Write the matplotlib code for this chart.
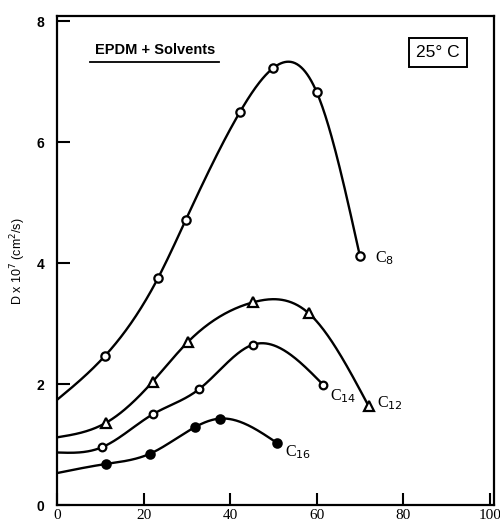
"""EPDM + solvents: diffusion coefficient vs. concentration, 25 C."""

import numpy as np
import matplotlib

matplotlib.use("Agg")
import matplotlib.pyplot as plt

# ---- data ----------------------------------------------------------------
# curve start at x=0 (no marker) is kept separately from the measured points
c8_x = [11.0, 23.4, 29.8, 42.3, 49.9, 60.0, 70.0]
c8_y = [2.46, 3.76, 4.72, 6.50, 7.22, 6.83, 4.12]
c8_start = 1.74

c12_x = [11.3, 22.1, 30.3, 45.2, 58.2, 72.0]
c12_y = [1.36, 2.04, 2.70, 3.35, 3.17, 1.64]
c12_start = 1.12

c14_x = [10.5, 22.1, 32.9, 45.2, 61.5]
c14_y = [0.96, 1.50, 1.92, 2.65, 1.99]
c14_start = 0.87

c16_x = [11.3, 21.5, 31.9, 37.6, 50.8]
c16_y = [0.68, 0.85, 1.29, 1.43, 1.03]
c16_start = 0.53

labels = ["C$_8$", "C$_{12}$", "C$_{14}$", "C$_{16}$"]


def natural_spline(xs, ys, n=300):
    """Natural cubic spline through the points, evaluated on a fine grid."""
    x = np.asarray(xs, float)
    y = np.asarray(ys, float)
    k = len(x)
    h = np.diff(x)
    A = np.zeros((k, k))
    b = np.zeros(k)
    A[0, 0] = A[-1, -1] = 1.0
    for i in range(1, k - 1):
        A[i, i - 1] = h[i - 1]
        A[i, i] = 2 * (h[i - 1] + h[i])
        A[i, i + 1] = h[i]
        b[i] = 6 * ((y[i + 1] - y[i]) / h[i] - (y[i] - y[i - 1]) / h[i - 1])
    m = np.linalg.solve(A, b)
    gx = np.linspace(x[0], x[-1], n)
    j = np.clip(np.searchsorted(x, gx) - 1, 0, k - 2)
    t0 = x[j + 1] - gx
    t1 = gx - x[j]
    hj = h[j]
    gy = (m[j] * t0 ** 3 / (6 * hj) + m[j + 1] * t1 ** 3 / (6 * hj)
          + (y[j] / hj - m[j] * hj / 6) * t0
          + (y[j + 1] / hj - m[j + 1] * hj / 6) * t1)
    return gx, gy


fig = plt.figure(figsize=(5.0, 5.24), dpi=100)
ax = fig.add_axes([0.114, 0.036, 0.874, 0.933])

series = [
    (c8_x, c8_y, c8_start, dict(marker="o", mfc="white", mec="black", ms=6)),
    (c12_x, c12_y, c12_start, dict(marker="^", mfc="white", mec="black", ms=7)),
    (c14_x, c14_y, c14_start, dict(marker="o", mfc="white", mec="black", ms=5.5)),
    (c16_x, c16_y, c16_start, dict(marker="o", mfc="black", mec="black", ms=6)),
]

for xs, ys, start, style in series:
    cx, cy = natural_spline([0.0] + xs, [start] + ys)
    ax.plot(cx, cy, color="black", lw=1.7, solid_capstyle="round")
    ax.plot(xs, ys, ls="none", mew=1.6, **style)

# curve labels
serif = "Liberation Serif"
ax.text(73.6, 4.08, labels[0], fontsize=11.5, family=serif, va="center")
ax.text(74.0, 1.68, labels[1], fontsize=11.5, family=serif, va="center")
ax.text(63.0, 1.80, labels[2], fontsize=11.5, family=serif, va="center")
ax.text(52.6, 0.88, labels[3], fontsize=11.5, family=serif, va="center")

# title-like annotation, underlined
ax.text(22.6, 7.52, "EPDM + Solvents", fontsize=10.5, fontweight="bold",
        ha="center", va="center", family="Liberation Sans")
ax.plot([7.7, 37.5], [7.33, 7.33], color="black", lw=1.3)

ax.text(88.0, 7.48, "25° C", fontsize=12.5, ha="center", va="center",
        family="Liberation Sans",
        bbox=dict(boxstyle="square,pad=0.4", fc="white", ec="black", lw=1.4))

ax.set_xlim(0, 101)
ax.set_ylim(0, 8.08)
ax.set_xticks([0, 20, 40, 60, 80, 100])
ax.set_yticks([0, 2, 4, 6, 8])
ax.tick_params(direction="in", length=9, width=1.5)
for lab in ax.get_xticklabels():
    lab.set_family(serif)
    lab.set_fontsize(11)
for lab in ax.get_yticklabels():
    lab.set_family("Liberation Sans")
    lab.set_fontweight("bold")
    lab.set_fontsize(10)
ax.tick_params(axis="y", pad=9)
ax.tick_params(axis="x", pad=3)
for sp in ax.spines.values():
    sp.set_linewidth(1.6)

ax.set_ylabel("D x 10$^7$ (cm$^2$/s)", fontsize=9, family="Liberation Sans",
              labelpad=6)

fig.savefig("out.png", dpi=100)
